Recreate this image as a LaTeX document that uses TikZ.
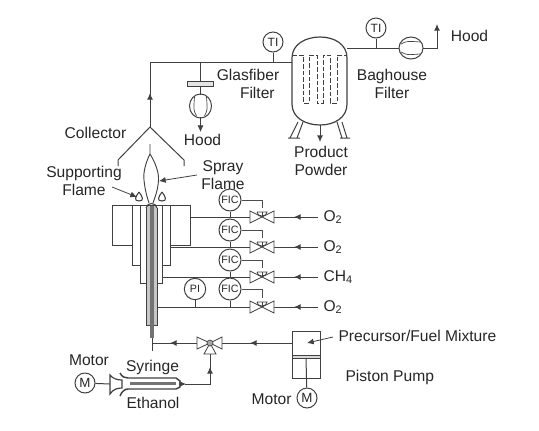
\documentclass[tikz,border=0pt]{standalone}
\usepackage{fontspec}
\setmainfont{Liberation Sans}
\usetikzlibrary{positioning, arrows.meta, calc}

\begin{document}
\begin{tikzpicture}[
  x=0.75pt, y=-0.75pt,
  font=\fontsize{11.7pt}{13.5pt}\selectfont,
  line width=0.75pt, draw=black!75, text=black!85,
  txt/.style={align=center, inner sep=0pt},
  instr/.style={draw=black!75, circle, minimum size=15pt, inner sep=0pt,
                font=\fontsize{8pt}{9pt}\selectfont},
  fic/.style={instr, minimum width=16.5pt, minimum height=15pt},
  flow/.style={-{Latex[length=5pt,width=4.5pt]}},
  signal/.style={line width=0.5pt, black!70},
  vessel/.style={line width=0.9pt},
  bag/.style={line width=0.7pt, dash pattern=on 3.5pt off 1.5pt},
  tube/.style={line width=0.75pt},
  blower/.pic={
    \draw (0,0) circle [x radius=12, y radius=11];
    \draw[line width=0.5pt] (-10,-4) .. controls (-4,-7) .. (9,-6);
    \draw[line width=0.5pt] (-10,4) .. controls (-4,7) .. (9,6);
  },
  hvalve/.pic={
    \draw[fill=white, line width=0.6pt] (0,0) -- (-12,-6) -- (-12,6) -- cycle;
    \draw[fill=white, line width=0.6pt] (0,0) -- (12,-6) -- (12,6) -- cycle;
    \draw[line width=0.6pt] (0,0) -- (0,-5);
    \draw[line width=0.6pt] (-5,-5) -- (5,-5) arc (0:180:5 and 4);
  },
]
  \useasboundingbox (0,0) rectangle (539,430);

  % --- burner body ---
  \draw[tube] (132,205) -| (112,245) -| (132,205);
  \draw[tube] (132,205) -- (170,205) (170,205) -- (190,205) -- (190,245) -- (170,245);
  \draw[tube] (132,205) -- (132,265) -- (140,265);
  \draw[tube] (170,205) -- (170,265) -- (162,265);
  \draw[tube] (140,205) -- (140,283) -- (146,283);
  \draw[tube] (162,205) -- (162,283) -- (157,283);
  \fill[black!22] (146,206) rectangle (157,325);
  \fill[black!55] (149.5,206) rectangle (153.5,325);
  \draw[tube] (146,208) -- (146,325) -- (157,325) -- (157,208);
  \draw[tube] (146,208) .. controls (147,202) and (156,202) .. (157,208);
  \fill[black!55] (150,325) rectangle (154,338);
  \coordinate (rodend) at (152,338);
  \coordinate (rodtail) at (152,351);
  \draw[tube] (rodend) -- (rodtail);

  % --- flames ---
  \draw[line width=0.7pt] (150,144) -- (150,154)
    .. controls (146,162) and (143,172) .. (144,180)
    .. controls (145,190) and (147,197) .. (149,203);
  \draw[line width=0.7pt] (150,154)
    .. controls (155,162) and (159,172) .. (158.5,180)
    .. controls (158,190) and (155,197) .. (153,203);
  \foreach \xpos in {139,162} {
    \draw[line width=0.8pt] (\xpos,192) .. controls (\xpos-3,196) and (\xpos-6,201) .. (\xpos,201)
      .. controls (\xpos+6,201) and (\xpos+3,196) .. (\xpos,192);
  }

  % --- collector and exhaust line ---
  \coordinate (apex) at (150,127);
  \coordinate (corner) at (150,62);
  \draw (118,166) -- (118,160) -- (apex) -- (184,160) -- (184,166);
  \draw (apex) -- (corner) -- (292,62);
  \draw[flow] (apex) -- (150,93);
  \node[txt] (collector) at (95.5,133) {Collector};
  \node[txt] (supporting) at (84,181) {Supporting\\Flame};
  \node[txt] (spray) at (223,175) {Spray\\Flame};
  \coordinate (suptip) at (137,197);
  \coordinate (spraytip) at (159,181);
  \draw[flow, line width=0.6pt] (112,187) -- (suptip);
  \draw[flow, line width=0.6pt] (197,175) -- (spraytip);

  % --- glasfiber filter branch ---
  \node[draw=black!75, fill=black!10, minimum width=20pt, minimum height=3.4pt, inner sep=0pt] (glasfilter) at (200.5,84) {};
  \pic[rotate=90] at (200.5,106) {blower};
  \draw[line width=0.6pt] (200.5,62) -- (glasfilter);
  \draw[line width=0.6pt] (glasfilter) -- (200.5,95);
  \draw[flow, line width=0.6pt] (200.5,117) -- (200.5,132);
  \node[txt] (hood1) at (202.5,140) {Hood};
  \node[txt] (glastext) at (248,84) {Glasfiber\\\hspace*{14pt}Filter};

  % --- baghouse vessel ---
  \draw[vessel] (292,58) .. controls (292,44) and (306,37) .. (320,37)
    .. controls (334,37) and (347,44) .. (347,58) -- (347,104)
    .. controls (347,118) and (334,125) .. (320,125)
    .. controls (306,125) and (292,118) .. (292,104) -- cycle;
  \draw[bag] (292,55) -- (303,55) -- (303,103) -- (309,103) -- (309,55) -- (317,55)
    -- (317,103) -- (323,103) -- (323,55) -- (330,55) -- (330,103) -- (337,103)
    -- (337,55) -- (347,55);
  \draw (298,122) -- (290,138) (303,122) -- (297,138) (288,138) -- (300,138);
  \draw (337,122) -- (342,138) (342,122) -- (347,138) (340,138) -- (350,138);
  \draw[flow] (320,125) -- (320,142);
  \node[txt] (product) at (321,160.5) {Product\\Powder};
  \node[txt] (baghouse) at (392,84) {Baghouse\\Filter};

  % --- temperature gauges and outlet ---
  \node[instr, font=\fontsize{9pt}{10pt}\selectfont] (ti1) at (273,42) {TI};
  \node[instr, font=\fontsize{9pt}{10pt}\selectfont] (ti2) at (376,28) {TI};
  \draw (ti1) -- (273,62);
  \draw (ti2) -- (376,48);
  \pic at (411,48) {blower};
  \draw (347,48) -- (399,48);
  \draw[flow] (423,48) -| (437,24);
  \node[txt] (hood2) at (469.5,36) {Hood};

  % --- gas feed rows ---
  \foreach \row/\ypos/\ficy/\gas/\xend in {1/217/200/{O\textsubscript{2}}/190, 2/247/230/{O\textsubscript{2}}/170,
                                           3/277/260/{CH\textsubscript{4}}/162, 4/307/289/{O\textsubscript{2}}/157} {
    \node[fic] (fic\row) at (230,\ficy) {FIC};
    \coordinate (vlv\row) at (262,\ypos);
    \draw (\xend,\ypos) -- (250,\ypos);
    \draw (274,\ypos) -- (318,\ypos);
    \draw[flow] (318,\ypos) -- (294,\ypos);
    \draw[line width=0.6pt] (fic\row) -- (230,\ypos);
    \draw[signal] (fic\row.east) -| ($(vlv\row)+(0,-9)$);
    \pic at (vlv\row) {hvalve};
    \node[txt, anchor=west] (gas\row) at (323,\ypos) {\gas};
  }
  \node[instr, minimum size=16pt] (pi) at (195,289) {PI};
  \draw[line width=0.6pt] (pi) -- (195,307);

  % --- piston pump ---
  \draw[tube] (292,331) rectangle (320,378);
  \draw[fill=black!15, line width=0.6pt] (292,355) rectangle (320,358);
  \node[instr, font=\fontsize{10pt}{11pt}\selectfont] (pumpmotor) at (307,398) {M};
  \draw (306,358) -- (pumpmotor);
  \node[txt, anchor=east] (motor1) at (292,399) {Motor};
  \node[txt, anchor=west] (mix) at (338,336) {Precursor/Fuel Mixture};
  \node[txt, anchor=west] (piston) at (345,377) {Piston Pump};
  \draw[flow, line width=0.6pt] (333,337) -- (307,343);

  % --- selector valve ---
  \coordinate (sel) at (210,343);
  \draw (292,343) -- (222,343);
  \draw[flow] (292,343) -- (250,343);
  \draw (197,343) -- (rodend |- sel);
  \draw[flow] (197,343) -- (170,343);
  \draw[fill=white, line width=0.6pt] (sel) -- (197,337) -- (197,349) -- cycle;
  \draw[fill=white, line width=0.6pt] (sel) -- (222,337) -- (222,349) -- cycle;
  \draw[fill=white, line width=0.6pt] (sel) -- (204,354) -- (216,354) -- cycle;
  \draw[fill=black!35, line width=0.5pt] (sel) circle (3);

  % --- syringe ---
  \node[instr, font=\fontsize{10pt}{11pt}\selectfont] (syrmotor) at (85,383) {M};
  \coordinate (syrtip) at (185,384);
  \draw (syrmotor) -- (110,384);
  \draw[line width=0.9pt] (110,375) .. controls (113,379) and (118,380) .. (122,380)
    -- (122,388) .. controls (118,388) and (113,389) .. (110,394) -- cycle;
  \draw[line width=1.1pt] (120,373) .. controls (122,377) and (125,378) .. (128,378)
    -- (176,378) -- (180,381) -- (180,387) -- (176,389) -- (128,389)
    .. controls (125,389) and (122,391) .. (120,396);
  \draw[line width=1.6pt, black!55] (130,383.5) -- (176,383.5);
  \draw[flow, line width=0.6pt] (180,384) -- (186,384);
  \draw (syrtip) -| (210,354);
  \draw[flow] (210,384) -- (210,367);
  \node[txt] (motor2) at (89,360) {Motor};
  \node[txt] (syringe) at (152.5,367) {Syringe};
  \node[txt] (ethanol) at (153,403) {Ethanol};
\end{tikzpicture}
\end{document}
